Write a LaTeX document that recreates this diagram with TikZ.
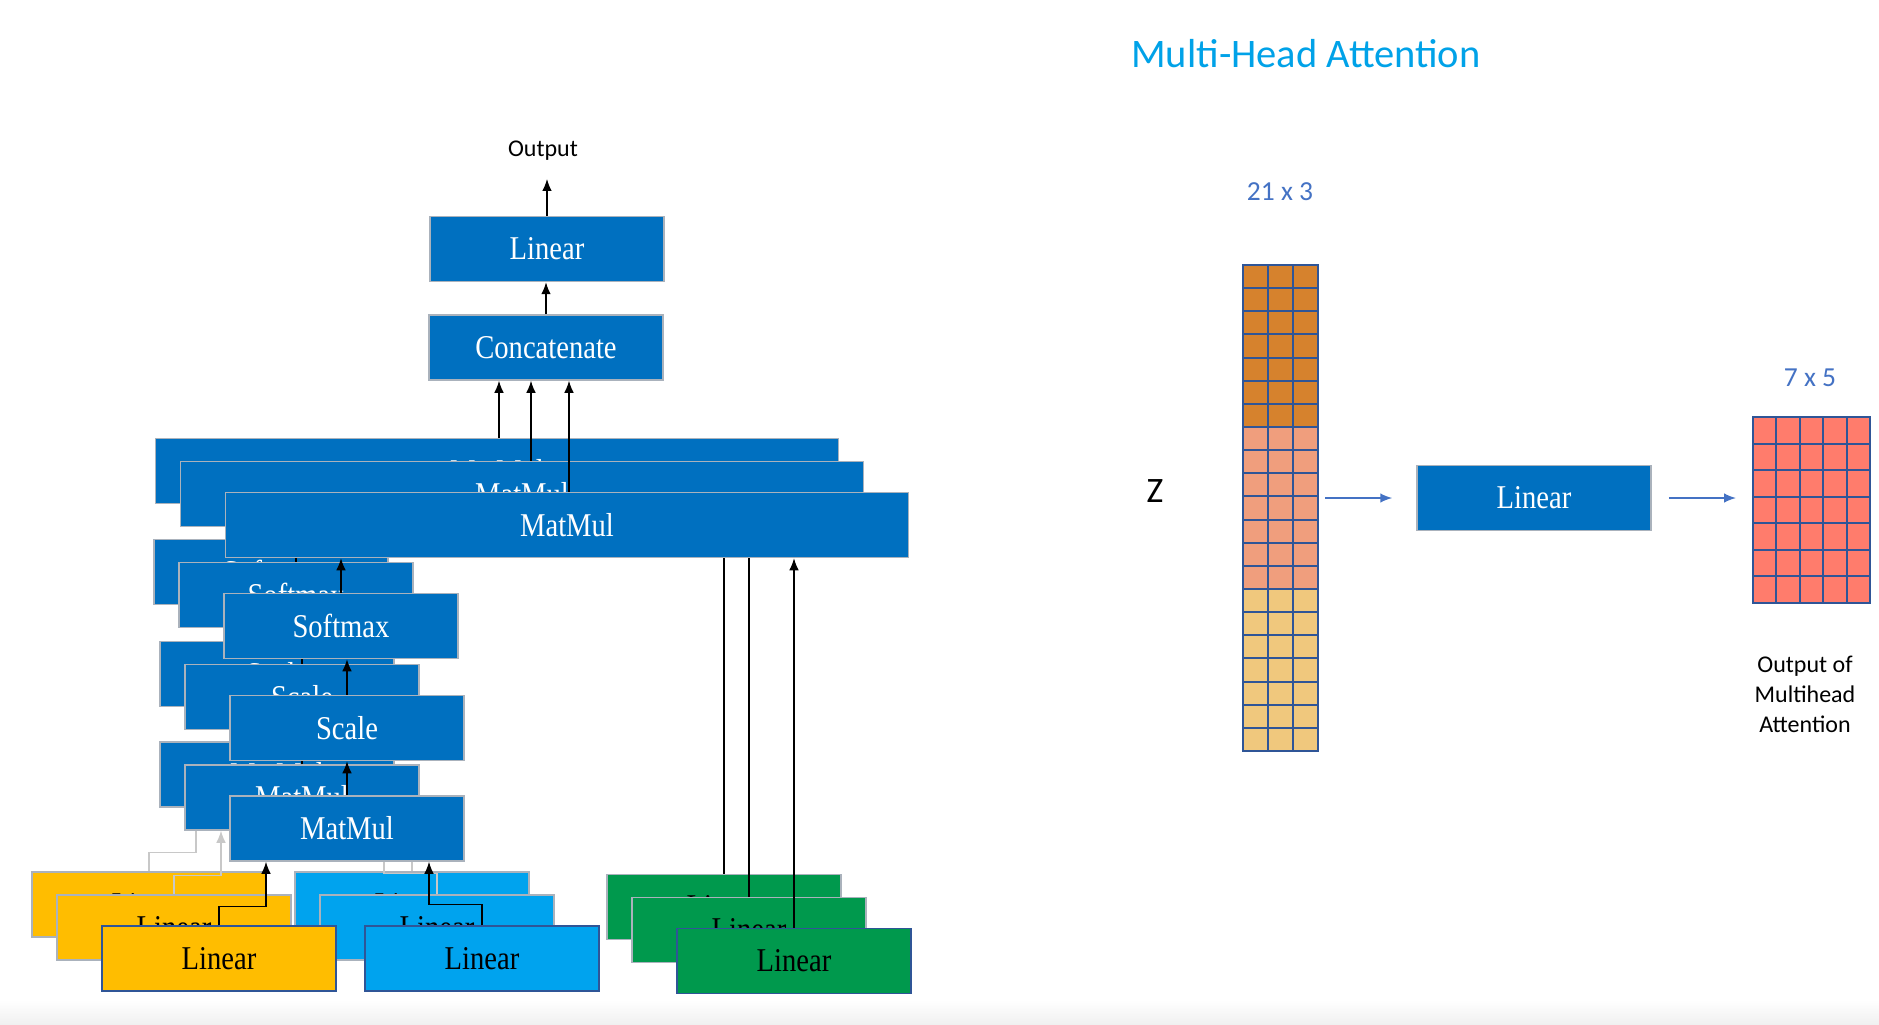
\documentclass[tikz,border=0pt]{standalone}
\usepackage{fontspec}
\setmainfont{Liberation Serif}
\newfontfamily\boxfont{Liberation Serif}[FakeStretch=0.86]
\newfontfamily\calfont{Carlito}
\usetikzlibrary{arrows.meta}

\definecolor{opblue}{RGB}{0,112,192}
\definecolor{qyellow}{RGB}{255,189,0}
\definecolor{kblue}{RGB}{0,163,238}
\definecolor{vgreen}{RGB}{0,153,77}
\definecolor{rimgray}{RGB}{170,178,188}
\definecolor{rimblue}{RGB}{47,85,151}
\definecolor{linkgray}{RGB}{200,200,200}
\definecolor{gridblue}{RGB}{47,85,151}
\definecolor{dimblue}{RGB}{68,114,196}
\definecolor{titleblue}{RGB}{0,162,232}
\definecolor{zorange}{RGB}{214,130,45}
\definecolor{zsalmon}{RGB}{240,158,125}
\definecolor{zgold}{RGB}{240,200,125}
\definecolor{outred}{RGB}{255,124,108}

\tikzset{
  opbox/.style={draw=rimgray, line width=0.6pt, fill=opblue, text=white,
    font=\boxfont\fontsize{13.3pt}{15pt}\selectfont,
    minimum width=93.6pt, minimum height=26pt, inner sep=0pt},
  wideop/.style={opbox, minimum width=273.2pt},
  inlinear/.style={opbox, text=black},
  link/.style={->, line width=0.5pt},
  dimarrow/.style={->, draw=dimblue, line width=0.6pt},
  sizelabel/.style={text=dimblue, font=\calfont\fontsize{11pt}{13pt}\selectfont},
  note/.style={font=\calfont\fontsize{9.6pt}{12pt}\selectfont, align=center, inner sep=0pt},
  cellgrid/.style={draw=gridblue, line width=0.8pt},
  matframe/.style={draw=gridblue, line width=0.8pt, inner sep=0pt},
}

\begin{document}
\begin{tikzpicture}[x=0.4pt, y=-0.4pt, >={Latex[length=4.8pt,width=3.8pt]}]
  \useasboundingbox (0,0) rectangle (1879,1025);
  \fill[white] (0,0) rectangle (1879,1025);
  \shade[top color=white, bottom color=black!6] (0,1000) rectangle (1879,1025);

  % top of the network
  \node[note] (output) at (543,151) {Output};
  \node[opbox] (toplin) at (547,249) {Linear};
  \node[opbox] (cat) at (546,347.5) {Concatenate};
  \draw[link] (cat.north) -- (cat.north |- toplin.south);
  \draw[link, shorten >=7.1pt] (toplin.north) -- (toplin.north |- output.south);

  % three heads, back to front
  \foreach \l/\dx/\dy/\cx/\qk/\rim in {2/-70/-54/2/linkgray/rimgray,
      1/-45/-31/9/linkgray/rimgray, 0/0/0/2/black/rimblue} {
    \begin{scope}[shift={(\dx,\dy)}]
      \node[wideop] (big\l) at (567,525) {MatMul};
      \node[opbox] (soft\l) at (341,626) {Softmax};
      \node[opbox] (scale\l) at (347,728) {Scale};
      \node[opbox] (mm\l) at (347,828.5) {MatMul};
      \node[inlinear, fill=qyellow, draw=\rim] (q\l) at (219,958.5) {Linear};
      \node[inlinear, fill=kblue, draw=\rim] (k\l) at (482,958.5) {Linear};
      \node[inlinear, fill=vgreen, draw=\rim] (v\l) at (794,961) {Linear};
    \end{scope}
    \draw[link] (mm\l.north) -- (mm\l.north |- scale\l.south);
    \draw[link] (scale\l.north) -- (scale\l.north |- soft\l.south);
    \draw[link] (soft\l.north) -- (soft\l.north |- big\l.south);
    \draw[link, draw=\qk] (q\l.north) -- ++(0,-19) -| ([xshift=-32.4pt]mm\l.south);
    \draw[link, draw=\qk] (k\l.north) -- ++(0,-21) -| ([xshift=32.8pt]mm\l.south);
    \draw[link] (v\l.north) -- (v\l.north |- big\l.south);
    \draw[link] ([xshift=\cx*0.4pt]big\l.north) -- ([xshift=\cx*0.4pt]big\l.north |- cat.south);
  }

  % right side
  \node[font=\calfont\fontsize{16.2pt}{19pt}\selectfont, text=titleblue] (title) at (1306,54) {Multi-Head Attention};
  \node[sizelabel] (zdim) at (1280,192) {21 x 3};
  \node[font=\calfont\fontsize{14.3pt}{17pt}\selectfont] (zlab) at (1155,491) {Z};

  % Z = heads stacked, 21 x 3
  \begin{scope}[shift={(1243,265)}, x=10pt, y=-9.2571pt]
    \fill[zorange] (0,0) rectangle (3,7);
    \fill[zsalmon] (0,7) rectangle (3,14);
    \fill[zgold] (0,14) rectangle (3,21);
    \foreach \r in {1,...,20} \draw[cellgrid] (0,\r) -- (3,\r);
    \foreach \c in {1,2} \draw[cellgrid] (\c,0) -- (\c,21);
  \end{scope}
  \node[matframe, minimum width=30pt, minimum height=194.4pt] (zmat) at (1280.5,508) {};

  \node[opbox] (lin) at (1534,498) {Linear};

  % output, 7 x 5
  \begin{scope}[shift={(1753,417)}, x=9.36pt, y=-10.629pt]
    \fill[outred] (0,0) rectangle (5,7);
    \foreach \r in {1,...,6} \draw[cellgrid] (0,\r) -- (5,\r);
    \foreach \c in {1,...,4} \draw[cellgrid] (\c,0) -- (\c,7);
  \end{scope}
  \node[matframe, minimum width=46.8pt, minimum height=74.4pt] (outmat) at (1811.5,510) {};
  \node[sizelabel] (outdim) at (1810,378) {7 x 5};
  \node[note] (outnote) at (1805,694) {Output of\\Multihead\\Attention};

  \draw[dimarrow, shorten <=2.4pt, shorten >=9.6pt] (zmat.east |- lin.west) -- (lin.west);
  \draw[dimarrow, shorten <=6.8pt, shorten >=6.4pt] (lin.east) -- (lin.east -| outmat.west);
\end{tikzpicture}
\end{document}
